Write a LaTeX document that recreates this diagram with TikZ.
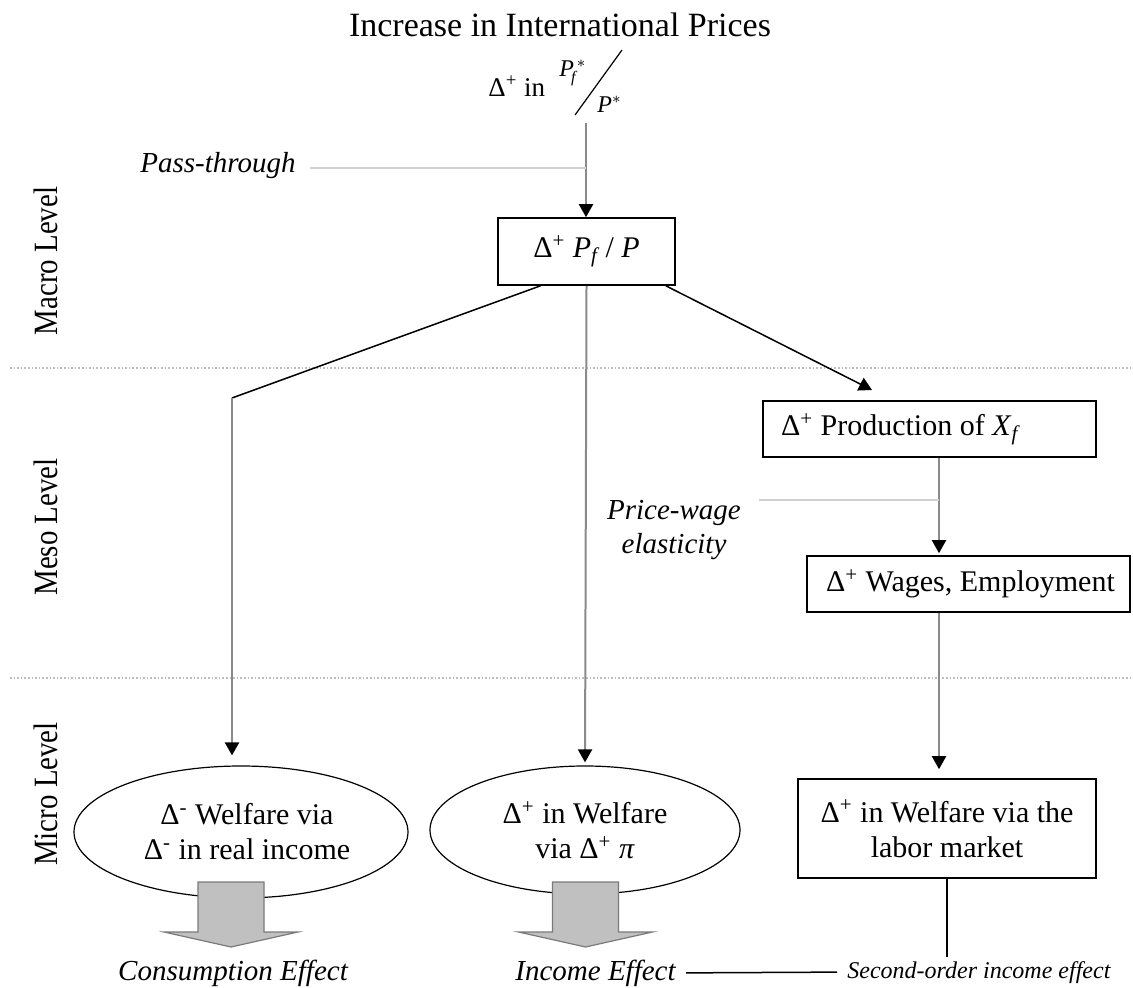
\documentclass[tikz,border=0pt]{standalone}
\usepackage{amstext}
\usepackage{fontspec}
\setmainfont{Liberation Serif}
\usetikzlibrary{arrows.meta,shapes.geometric,calc}
\definecolor{midgray}{HTML}{8A8A8A}
\definecolor{guidegray}{HTML}{D0D0D0}
\definecolor{sepgray}{HTML}{BDBDBD}
\definecolor{arrowfill}{HTML}{C0C0C0}
\definecolor{arrowedge}{HTML}{7A7A7A}
\begin{document}
\begin{tikzpicture}[x=0.5pt,y=-0.5pt,
  box/.style={draw=black, line width=0.8pt, rectangle, inner sep=0pt, font=\fontsize{15}{17.5}\selectfont},
  ell/.style={draw=black, line width=0.6pt, ellipse, inner sep=0pt, align=center, font=\fontsize{15}{17.5}\selectfont},
  lbl/.style={font=\fontsize{14.5}{17}\selectfont\itshape, inner sep=0pt},
  lvl/.style={rotate=90, font=\fontsize{17}{20}\selectfont, inner sep=0pt},
  garr/.style={draw=midgray, line width=1pt, -{Triangle[length=6.5pt,width=7pt,color=black]}},
  gline/.style={draw=midgray, line width=1pt},
  barr/.style={draw=black, line width=0.75pt, -{Triangle[length=6.5pt,width=7pt]}},
  bline/.style={draw=black, line width=0.75pt},
  guide/.style={draw=guidegray, line width=1pt},
  sepline/.style={draw=sepgray, line width=0.8pt, densely dotted},
  blockarrow/.style={draw=arrowedge, fill=arrowfill, line width=0.6pt},
]
\useasboundingbox (0,0) rectangle (1133,988);

% level separators
\coordinate (s1l) at (10,368); \coordinate (s1r) at (1133,368);
\coordinate (s2l) at (10,678); \coordinate (s2r) at (1133,678);
\draw[sepline] (s1l) -- (s1r);
\draw[sepline] (s2l) -- (s2r);

% level labels
\node[lvl] (macro) at (46,261) {\scalebox{0.85}[1]{Macro Level}};
\node[lvl] (meso) at (46,527) {\scalebox{0.85}[1]{Meso Level}};
\node[lvl] (micro) at (46,794) {\scalebox{0.85}[1]{Micro Level}};

% title and formula
\node[font=\fontsize{17}{20}\selectfont, anchor=base, inner sep=0pt] (title) at (560,37) {Increase in International Prices};
\node[font=\fontsize{13.5}{16}\selectfont, anchor=base west, inner sep=0pt] (dlt) at (488,97) {Δ\textsuperscript{+} in};
\node[font=\fontsize{12}{13}\selectfont, anchor=base west, inner sep=0pt] (pfs) at (559,77)
  {$\textit{P}_{\!\textit{f}}^{\,*}$};
\node[font=\fontsize{12}{13}\selectfont, anchor=base west, inner sep=0pt] (ps) at (597,113)
  {$\textit{P}^{*}$};
\coordinate (sl1) at (575,115); \coordinate (sl2) at (622,50);
\draw[black, line width=0.6pt] (sl1) -- (sl2);

% macro box
\node[box, minimum width=88.5pt, minimum height=33.5pt] (A) at (586.5,251.5)
  {Δ\textsuperscript{+} \textit{P}\textsubscript{\itshape f} / \textit{P}};
\coordinate (topstart) at (586,123);
\draw[garr] (topstart) -- (A.north -| topstart);

% pass-through
\node[lbl, anchor=base east] (pt) at (296,173) {Pass-through};
\coordinate (pt1) at (310,168); \coordinate (pt2) at (586,168);
\draw[guide] (pt1) -- (pt2);

% meso boxes
\node[box, minimum width=166.5pt, minimum height=28pt] (B) at (929.5,429)
  {\makebox[148.5pt][l]{Δ\textsuperscript{+} Production of \textit{X}\textsubscript{\itshape f}}};
\node[box, minimum width=161.5pt, minimum height=28pt] (C) at (968.5,584)
  {\makebox[142.5pt][l]{Δ\textsuperscript{+} Wages, Employment}};
\node[box, minimum width=149pt, minimum height=49.5pt, align=center] (D) at (947,828.5)
  {Δ\textsuperscript{+} in Welfare via the\\labor market};

% ellipses
\node[ell, minimum width=167pt, minimum height=66pt] (E1) at (241,832)
  {\hspace*{6pt}Δ\textsuperscript{-} Welfare via\\\hspace*{6pt}Δ\textsuperscript{-} in real income};
\node[ell, minimum width=155pt, minimum height=64pt] (E2) at (585,830)
  {Δ\textsuperscript{+} in Welfare\\via Δ\textsuperscript{+} \textit{π}};

% connectors from A
\coordinate (lk) at (232,398);
\draw[bline] ([xshift=-23pt]A.south) -- (lk);
\draw[gline, -{Triangle[length=6.5pt,width=7pt,color=black]}, shorten >=5pt] (lk) -- (E1.north -| lk);
\draw[garr, shorten >=1.5pt] (A.south) -- (E2.north);
\coordinate (Btip) at (872,390);
\draw[barr] ([xshift=-5pt]A.south east) -- (Btip);

% right chain
\coordinate (bc) at (939,0);
\draw[garr, shorten >=1pt] (B.south -| bc) -- (C.north -| bc);
\draw[garr, shorten >=4.5pt] (C.south -| bc) -- (D.north -| bc);

% price-wage
\node[lbl, align=center] (pwl) at (674,530) {Price-wage\\elasticity};
\coordinate (pw) at (759,500);
\draw[guide] (pw) -- (pw -| bc);

% block arrows
\coordinate (ba1) at (231,882);
\coordinate (ba2) at (585.5,882);
\draw[blockarrow] (ba1) ++(-33,0) -- ++(66,0) -- ++(0,50) -- ++(34,0) -- ++(-67,15) -- ++(-67,-15) -- ++(34,0) -- cycle;
\draw[blockarrow] (ba2) ++(-33,0) -- ++(66,0) -- ++(0,50) -- ++(34,0) -- ++(-67,15) -- ++(-67,-15) -- ++(34,0) -- cycle;

% bottom labels
\node[lbl, anchor=base] (ce) at (233,980) {Consumption Effect};
\node[lbl, anchor=base west] (ie) at (515,980) {Income Effect};
\node[font=\fontsize{12}{14}\selectfont\itshape, anchor=base west, inner sep=0pt] (soe) at (847,978) {Second-order income effect};
\coordinate (so) at (948,957);
\draw[bline] (D.south) -- (D.south |- so);
\draw[bline] ([xshift=5pt]ie.east) -- ([xshift=-5pt]soe.west);
\end{tikzpicture}
\end{document}
